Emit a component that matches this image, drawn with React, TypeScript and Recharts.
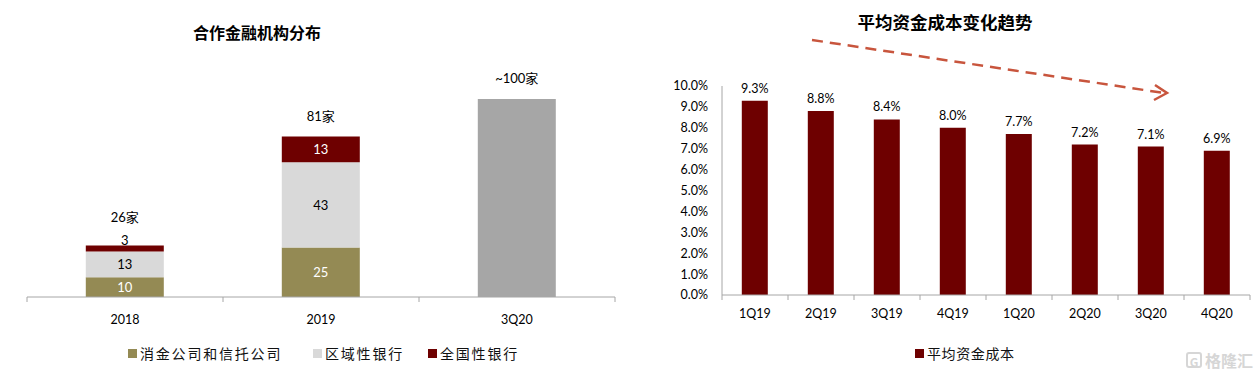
import React from 'react';
import { BarChart, Bar, XAxis, YAxis, LabelList, Legend } from 'recharts';

// ---------- data: left chart ----------
const instCategories = ['2018', '2019', '3Q20'];
const consumerTrust = [10, 25, null];
const regionalBanks = [13, 43, null];
const nationalBanks = [3, 13, null];
const estimateTotal = [null, null, 100];
const totalLabels = ['26家', '81家', '~100家'];
const instSeriesNames = ['消金公司和信托公司', '区域性银行', '全国性银行'];

// ---------- data: right chart ----------
const quarters = ['1Q19', '2Q19', '3Q19', '4Q19', '1Q20', '2Q20', '3Q20', '4Q20'];
const fundingCost = [9.3, 8.8, 8.4, 8.0, 7.7, 7.2, 7.1, 6.9];
const costTicks = [0, 1, 2, 3, 4, 5, 6, 7, 8, 9, 10];
const costSeriesName = '平均资金成本';

const instData = instCategories.map((c, i) => ({
  cat: c,
  consumer: consumerTrust[i],
  regional: regionalBanks[i],
  national: nationalBanks[i],
  estimate: estimateTotal[i],
  nationalTotal: nationalBanks[i] != null ? totalLabels[i] : null,
  estimateTotalText: estimateTotal[i] != null ? totalLabels[i] : null,
}));
const costData = quarters.map((q, i) => ({ q, cost: fundingCost[i] }));

// ---------- styles ----------
const OLIVE = '#948A54';
const LIGHT = '#D9D9D9';
const DARKRED = '#6E0000';
const GRAY = '#A6A6A6';
const AXIS = '#A6A6A6';
const NUM_FONT = "Lato, 'Noto Sans CJK SC', sans-serif";
const CJK_FONT = "'Noto Sans CJK SC', sans-serif";

const BoundaryTick = (props: any) => {
  const { x, y, payload, index, band, count } = props;
  const half = band / 2;
  const axisY = y - 8;
  return (
    <g>
      <line x1={x - half} y1={axisY} x2={x - half} y2={axisY + 5} stroke={AXIS} />
      {index === count - 1 && (
        <line x1={x + half} y1={axisY} x2={x + half} y2={axisY + 5} stroke={AXIS} />
      )}
      <text
        x={x}
        y={axisY + props.labelDy}
        textAnchor="middle"
        dominantBaseline="central"
        fontFamily={NUM_FONT}
        fontSize={12.5}
        fill="#000"
      >
        {payload.value}
      </text>
    </g>
  );
};

const centerLabel = (color: string) => (props: any) => {
  const { x, y, width, height, value } = props;
  if (value == null) return null;
  return (
    <text
      x={x + width / 2}
      y={y + height / 2}
      textAnchor="middle"
      dominantBaseline="central"
      fontFamily={NUM_FONT}
      fontSize={13}
      fill={color}
    >
      {value}
    </text>
  );
};

const nationalLabel = (props: any) => {
  const { x, y, width, height, value } = props;
  if (value == null) return null;
  const thin = height < 12;
  return (
    <text
      x={x + width / 2}
      y={thin ? y - 6 : y + height / 2}
      textAnchor="middle"
      dominantBaseline="central"
      fontFamily={NUM_FONT}
      fontSize={13}
      fill={thin ? '#000' : '#fff'}
    >
      {value}
    </text>
  );
};

const totalLabel = (props: any) => {
  const { x, y, width, height, value } = props;
  if (value == null || value === '') return null;
  const extra = height < 12 ? 8 : 0;
  return (
    <text
      x={x + width / 2}
      y={y - 21 - extra}
      textAnchor="middle"
      dominantBaseline="central"
      fontFamily={NUM_FONT}
      fontSize={13}
      fill="#000"
    >
      {value}
    </text>
  );
};

const LegendItem = ({ color, text, left, spacing }: any) => (
  <div
    style={{
      position: 'absolute',
      left,
      top: 0,
      height: 20,
      display: 'flex',
      alignItems: 'center',
      whiteSpace: 'nowrap',
    }}
  >
    <span style={{ display: 'inline-block', width: 9, height: 9, background: color, marginRight: 3 }} />
    <span style={{ fontFamily: CJK_FONT, fontSize: 14, letterSpacing: spacing, color: '#111', lineHeight: '20px' }}>
      {text}
    </span>
  </div>
);

const LeftLegend = () => (
  <div style={{ position: 'relative', width: 640, height: 20 }}>
    <LegendItem color={OLIVE} text={instSeriesNames[0]} left={128} spacing={1.8} />
    <LegendItem color={LIGHT} text={instSeriesNames[1]} left={313} spacing={1.8} />
    <LegendItem color={DARKRED} text={instSeriesNames[2]} left={428} spacing={1.8} />
  </div>
);

const RightLegend = () => (
  <div style={{ position: 'relative', width: 620, height: 20 }}>
    <LegendItem color={DARKRED} text={costSeriesName} left={275} spacing={0.6} />
  </div>
);

export default function App() {
  return (
    <div
      style={{
        position: 'absolute',
        left: 0,
        top: 0,
        width: 1260,
        height: 380,
        background: '#fff',
        overflow: 'hidden',
      }}
    >
      {/* Titles */}
      <div
        style={{
          position: 'absolute',
          left: 0,
          width: 514,
          top: 20,
          textAlign: 'center',
          fontFamily: CJK_FONT,
          fontWeight: 700,
          fontSize: 16,
          lineHeight: '24px',
          color: '#000',
        }}
      >
        合作金融机构分布
      </div>
      <div
        style={{
          position: 'absolute',
          left: 640,
          width: 610,
          top: 9,
          textAlign: 'center',
          fontFamily: CJK_FONT,
          fontWeight: 700,
          fontSize: 17.5,
          lineHeight: '26px',
          color: '#000',
        }}
      >
        平均资金成本变化趋势
      </div>

      {/* Left chart */}
      <div style={{ position: 'absolute', left: 0, top: 0 }}>
        <BarChart
          width={640}
          height={380}
          data={instData}
          margin={{ top: 99, right: 25, left: 27, bottom: 33 }}
          barCategoryGap="30%"
        >
          <XAxis
            dataKey="cat"
            axisLine={{ stroke: AXIS }}
            tickLine={false}
            interval={0}
            height={30}
            tick={<BoundaryTick band={196} count={instCategories.length} labelDy={22} />}
          />
          <YAxis hide domain={[0, 100]} />
          <Legend
            verticalAlign="bottom"
            content={<LeftLegend />}
            wrapperStyle={{ top: 343, left: 0, width: 640, height: 20 }}
          />
          <Bar dataKey="consumer" stackId="a" fill={OLIVE} isAnimationActive={false} name={instSeriesNames[0]}>
            <LabelList dataKey="consumer" content={centerLabel('#fff')} />
          </Bar>
          <Bar dataKey="regional" stackId="a" fill={LIGHT} isAnimationActive={false} name={instSeriesNames[1]}>
            <LabelList dataKey="regional" content={centerLabel('#000')} />
          </Bar>
          <Bar dataKey="national" stackId="a" fill={DARKRED} isAnimationActive={false} name={instSeriesNames[2]}>
            <LabelList dataKey="national" content={nationalLabel} />
            <LabelList dataKey="nationalTotal" content={totalLabel} />
          </Bar>
          <Bar dataKey="estimate" stackId="a" fill={GRAY} isAnimationActive={false} legendType="none">
            <LabelList dataKey="estimateTotalText" content={totalLabel} />
          </Bar>
        </BarChart>
      </div>

      {/* Right chart */}
      <div style={{ position: 'absolute', left: 640, top: 0 }}>
        <BarChart
          width={620}
          height={380}
          data={costData}
          margin={{ top: 86, right: 10, left: 0, bottom: 35 }}
          barCategoryGap="30%"
        >
          <XAxis
            dataKey="q"
            axisLine={{ stroke: AXIS }}
            tickLine={false}
            interval={0}
            height={30}
            tick={<BoundaryTick band={66} count={quarters.length} labelDy={18} />}
          />
          <YAxis
            width={82}
            domain={[0, 10]}
            ticks={costTicks}
            interval={0}
            axisLine={{ stroke: AXIS }}
            tickLine={false}
            tickMargin={8}
            tickFormatter={(v: number) => v.toFixed(1) + '%'}
            tick={{ fontFamily: NUM_FONT, fontSize: 12.5, fill: '#000' }}
          />
          <Legend
            verticalAlign="bottom"
            content={<RightLegend />}
            wrapperStyle={{ top: 343, left: 0, width: 620, height: 20 }}
          />
          <Bar dataKey="cost" fill={DARKRED} isAnimationActive={false} name={costSeriesName}>
            <LabelList
              dataKey="cost"
              position="top"
              offset={8}
              formatter={(v: number) => v.toFixed(1) + '%'}
              style={{ fontFamily: NUM_FONT, fontSize: 12.5, fill: '#000' }}
            />
          </Bar>
        </BarChart>
      </div>

      {/* Trend arrow annotation */}
      <svg
        width={1260}
        height={380}
        style={{ position: 'absolute', left: 0, top: 0, pointerEvents: 'none' }}
      >
        <line x1={812} y1={40} x2={1164} y2={93} stroke="#C8553D" strokeWidth={2.5} strokeDasharray="11 7" />
        <polyline points="1155,85 1167,93 1154,100" fill="none" stroke="#C8553D" strokeWidth={2.5} />
      </svg>

      {/* Watermark */}
      <div
        style={{
          position: 'absolute',
          left: 1186,
          top: 350,
          display: 'flex',
          alignItems: 'center',
          color: '#d6d6d6',
          fontFamily: CJK_FONT,
          fontWeight: 700,
          fontSize: 16,
          lineHeight: '20px',
        }}
      >
        <span
          style={{
            display: 'inline-block',
            width: 16,
            height: 16,
            border: '2px solid #d6d6d6',
            borderRadius: 3,
            fontSize: 12,
            lineHeight: '16px',
            textAlign: 'center',
            marginRight: 3,
            boxSizing: 'border-box',
          }}
        >
          G
        </span>
        格隆汇
      </div>
    </div>
  );
}
